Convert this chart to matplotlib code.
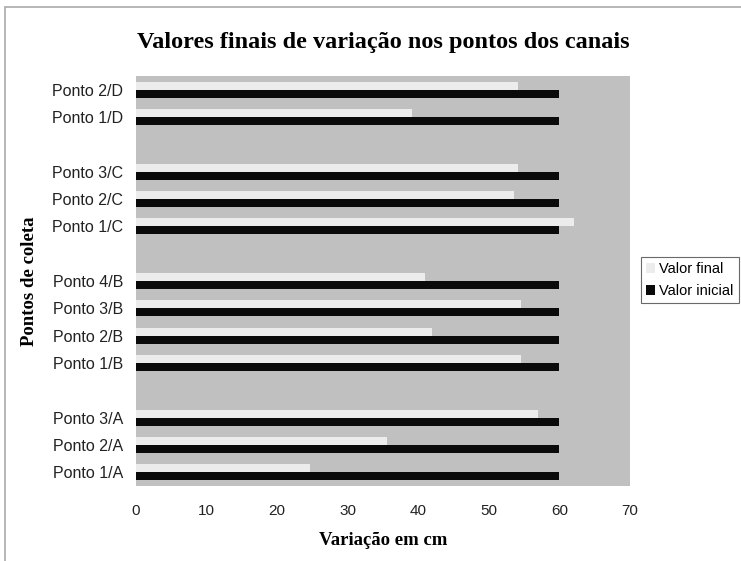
import numpy as np
import matplotlib.pyplot as plt
from matplotlib.patches import Rectangle

# bottom to top, '' = empty slot between groups
pontos = ['Ponto 1/A', 'Ponto 2/A', 'Ponto 3/A', '',
          'Ponto 1/B', 'Ponto 2/B', 'Ponto 3/B', 'Ponto 4/B', '',
          'Ponto 1/C', 'Ponto 2/C', 'Ponto 3/C', '',
          'Ponto 1/D', 'Ponto 2/D']
valor_final = [24.7, 35.5, 57.0, np.nan,
               54.6, 42.0, 54.6, 41.0, np.nan,
               62.0, 53.6, 54.1, np.nan,
               39.1, 54.1]
valor_inicial = [60, 60, 60, np.nan,
                 60, 60, 60, 60, np.nan,
                 60, 60, 60, np.nan,
                 60, 60]

serif = ['Liberation Serif', 'DejaVu Serif']
sans = ['Liberation Sans', 'DejaVu Sans']

fig = plt.figure(figsize=(7.41, 5.61), dpi=100)
ax = fig.add_axes([136/741, 1-486/561, 494/741, 410/561])
ax.set_facecolor('#c0c0c0')

y = np.arange(len(pontos))
h = 0.29
ax.barh(y + h/2, valor_final, height=h, color='#ececec', label='Valor final')
ax.barh(y - h/2, valor_inicial, height=h, color='#0a0a0a', label='Valor inicial')

ax.set_xlim(0, 70)
ax.set_ylim(-0.5, len(pontos) - 0.5)
ax.set_xticks(range(0, 71, 10))
ax.set_yticks(y)
ax.set_yticklabels(pontos, family=sans, fontsize=11.5, color='#222222')
for t in ax.get_xticklabels():
    t.set_family(sans)
    t.set_fontsize(11)
    t.set_color('#222222')
ax.tick_params(axis='y', length=0, pad=9)
ax.tick_params(axis='x', length=0, pad=13)
for s in ax.spines.values():
    s.set_visible(False)

ax.set_title('Valores finais de variação nos pontos dos canais',
             family=serif, fontweight='bold', fontsize=17.5, pad=20)
ax.set_xlabel('Variação em cm', family=serif, fontweight='bold', fontsize=13.5, labelpad=10)
ax.set_ylabel('Pontos de coleta', family=serif, fontweight='bold', fontsize=13.5, labelpad=10)

# outer chart border
fig.patches.append(Rectangle((5/741, -0.1), 1.2, 1 - 7/561 + 0.1,
                             transform=fig.transFigure, fill=False,
                             edgecolor='#aaaaaa', linewidth=1.2))

leg = fig.legend(loc='upper left', bbox_to_anchor=(641/741, 1-257/561),
                 prop={'family': sans, 'size': 10.5}, frameon=True, fancybox=False,
                 handlelength=0.6, handleheight=0.6, handletextpad=0.3,
                 borderpad=0.35, labelspacing=0.55, borderaxespad=0)
leg.get_frame().set_edgecolor('#444444')
leg.get_frame().set_linewidth(0.8)

fig.savefig('out.png', dpi=100)
